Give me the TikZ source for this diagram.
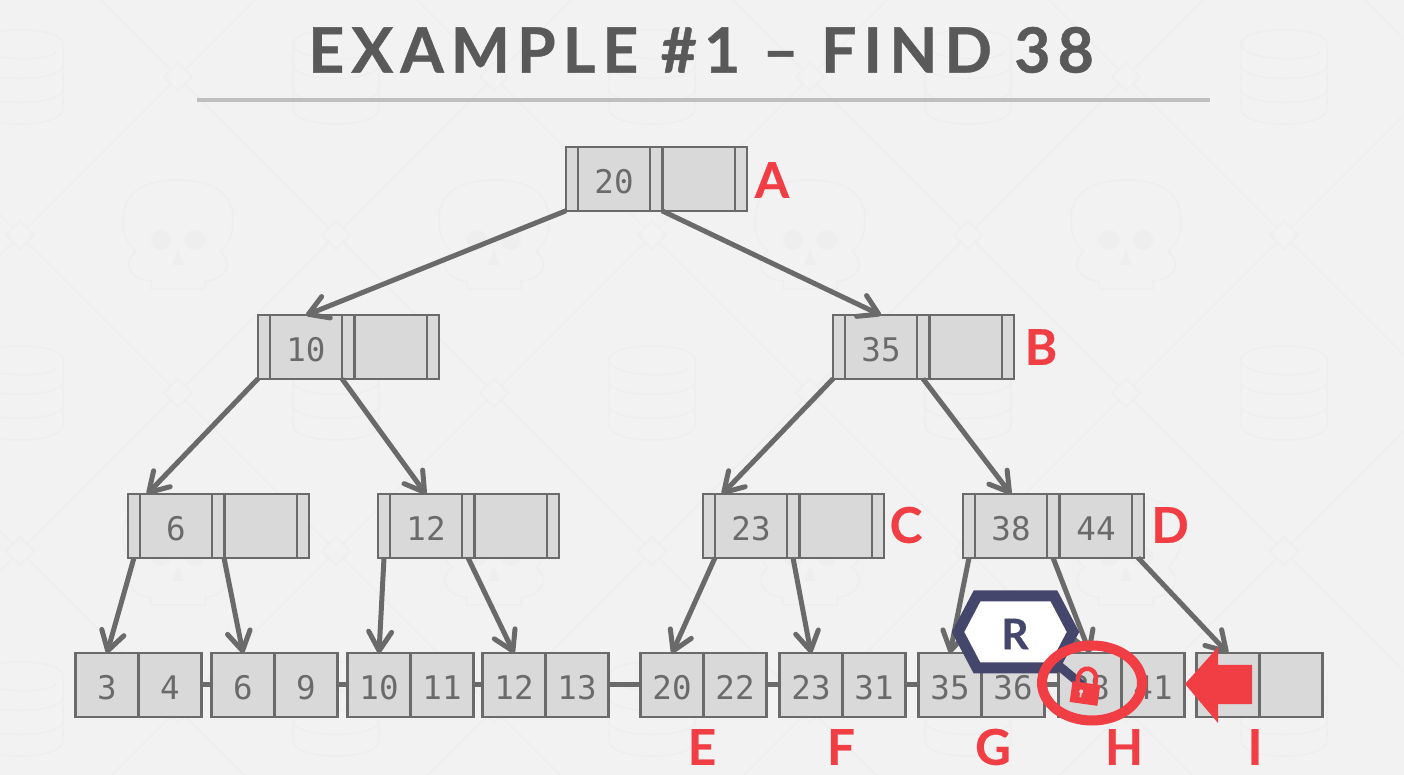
\documentclass[tikz,border=0pt]{standalone}
\usepackage{fontspec}
\usetikzlibrary{arrows.meta}
\setmainfont{Lato}
\newfontfamily\titlefont[LetterSpace=11.5,BoldFeatures={FakeBold=0.7}]{Lato}
\newfontfamily\tagfont[BoldFeatures={FakeBold=0.5}]{Lato}
\newfontfamily\keyfont{DejaVu Sans Mono}

\definecolor{pagebg}{HTML}{F2F2F2}
\definecolor{markgray}{HTML}{EEEEEE}
\definecolor{cellfill}{HTML}{D9D9D9}
\definecolor{cellline}{HTML}{6A6A6A}
\definecolor{titlegray}{HTML}{595959}
\definecolor{rulegray}{HTML}{BFBFBF}
\definecolor{alertred}{HTML}{F03E44}
\definecolor{latchblue}{HTML}{45466B}

\tikzset{
	cell/.style={draw=cellline, fill=cellfill, line width=0.45mm, inner sep=0pt, outer sep=0pt, minimum height=12.7mm, text height=6mm, text depth=0pt, text=cellline, font=\keyfont\fontsize{18.5}{20}\selectfont},
	strip/.style={cell, minimum width=2.4mm},
	keycell/.style={cell, minimum width=14.4mm},
	leafcell/.style={cell, minimum width=12.6mm},
	treeedge/.style={draw=cellline, line width=1mm, -{Straight Barb[length=3.8mm,width=4.6mm,line width=1mm,round]}},
	sibling/.style={draw=cellline, line width=1mm},
	tag/.style={text=alertred, inner sep=0pt, font=\tagfont\bfseries\fontsize{28}{30}\selectfont},
	faint/.style={draw=markgray, line width=0.3mm},
	pics/dbicon/.style={code={
		\draw[faint] (-43,-33) .. controls (-43,-52) and (43,-52) .. (43,-33) -- (43,32) .. controls (43,52) and (-43,52) .. (-43,32) -- cycle;
		\draw[faint] (-43,-33) .. controls (-43,-16) and (30,-14) .. (36,-25);
		\draw[faint] (-43,-12) .. controls (-43,6) and (43,6) .. (43,-12);
		\draw[faint] (-43,12) .. controls (-43,30) and (43,30) .. (43,12);
	}},
	pics/skullicon/.style={code={
		\draw[faint] (-27,54) -- (-27,46) .. controls (-45,46) and (-58,30) .. (-42,16) .. controls (-55,5) and (-55,-8) .. (-55,-15) .. controls (-55,-45) and (-30,-55) .. (0,-55) .. controls (30,-55) and (55,-45) .. (55,-15) .. controls (55,-8) and (55,5) .. (42,16) .. controls (58,30) and (45,46) .. (27,46) -- (27,54) -- cycle;
		\fill[markgray] (-17,5) circle (10);
		\fill[markgray] (17,5) circle (10);
		\fill[markgray] (0,15) -- (-6,30) -- (6,30) -- cycle;
	}}
}

\begin{document}
\begin{tikzpicture}[x=0.2mm, y=-0.2mm]

\useasboundingbox (0,0) rectangle (1404,775);
\fill[pagebg] (0,0) rectangle (1404,775);

% watermark
\begin{scope}
\clip (0,0) rectangle (1404,775);
\foreach \k in {-3,...,5} {
	\draw[faint] (101+316*\k,0) -- (876+316*\k,775);
	\draw[faint] (255+316*\k,0) -- (-520+316*\k,775);
}
\foreach \x in {20,336,652,968,1284} {
	\foreach \y in {77,393,709}
		\pic at (\x,\y) {dbicon};
	\foreach \y in {235,551}
		\draw[faint, fill=pagebg] (\x,\y-14) -- (\x+14,\y) -- (\x,\y+14) -- (\x-14,\y) -- cycle;
}
\foreach \x in {178,494,810,1126} {
	\foreach \y in {235,551}
		\pic at (\x,\y) {skullicon};
	\foreach \y in {77,393,709}
		\draw[faint, fill=pagebg] (\x,\y-14) -- (\x+14,\y) -- (\x,\y+14) -- (\x-14,\y) -- cycle;
}
\end{scope}

\node[text=titlegray, inner sep=0pt, font=\titlefont\bfseries\fontsize{35.5}{40}\selectfont] (title) at (701,50) {EXAMPLE \#1 – FIND 38};
\coordinate (ruleleft) at (197,100);
\coordinate (ruleright) at (1210,100);
\draw[rulegray, line width=0.8mm] (ruleleft) -- (ruleright);

% inner nodes
\foreach \name/\x/\y/\first/\second in {a/566/179/20/, b/258/347/10/, c/833/347/35/, d/128/526/6/, e/378/526/12/, f/703/526/23/, g/963/526/38/44} {
	\node[strip] (\name s1) at (\x+6,\y) {};
	\node[keycell] (\name k1) at (\x+48,\y) {\first};
	\node[strip] (\name s2) at (\x+90,\y) {};
	\node[keycell] (\name k2) at (\x+133,\y) {\second};
	\node[strip] (\name s3) at (\x+175,\y) {};
}

% leaves
\foreach \name/\x/\first/\second in {p/75/3/4, q/211/6/9, r/347/10/11, s/482/12/13, t/640/20/22, u/779/23/31, v/918/35/36, w/1058/38/41, z/1196//} {
	\node[leafcell] (\name1) at (\x+32,685) {\first};
	\node[leafcell] (\name2) at (\x+95,685) {\second};
}

\foreach \from/\to in {p2/q1, q2/r1, r2/s1, s2/t1, t2/u1, u2/v1, v2/w1}
	\draw[sibling] (\from) -- (\to);

\coordinate (dtip) at ([xshift=1.4mm]dk1.north west);
\coordinate (ftip) at ([xshift=1.4mm]fk1.north west);

\foreach \from/\to in {as1.south west/bk1.north, as2.south east/ck1.north, bs1.south west/dtip, bs2.south west/ek1.north, cs1.south west/ftip, cs2.south/gk1.north, ds1.south/p1.north, ds2.south east/q1.north, es1.south/r1.north, es2.south/s1.north, fs1.south east/t1.north, fs2.south/u1.north, gs1.south/v1.north, gs2.south/w1.north, gs3.south/z1.north}
	\draw[treeedge] (\from) -- (\to);

\node[tag] (la) at (772,180) {A};
\node[tag] (lb) at (1041,347) {B};
\node[tag] (lc) at (906,525) {C};
\node[tag] (ld) at (1170,525) {D};
\node[tag] (le) at (702,747) {E};
\node[tag] (lf) at (841,747) {F};
\node[tag] (lg) at (993,747) {G};
\node[tag] (lh) at (1124,747) {H};
\node[tag] (li) at (1255,747) {I};

% latch
\coordinate (latchend) at (1082,685);
\draw[latchblue, line width=1.8mm] (1052,660) -- (latchend);
\draw[latchblue, fill=white, line width=2.2mm] (958,632) -- (977,596) -- (1054,596) -- (1073,632) -- (1054,668) -- (977,668) -- cycle;
\node[text=latchblue, inner sep=0pt, font=\tagfont\bfseries\fontsize{24}{26}\selectfont] (latch) at (1015,634) {R};

\draw[alertred, line width=2mm] (1092,683) ellipse (50 and 37.5);
\begin{scope}[shift={(1085,693)}, rotate=-8]
\fill[alertred] (-14,-10) rectangle (14,11);
\draw[alertred, line width=0.9mm] (-9,-10) -- (-9,-14) .. controls (-9,-28) and (9,-28) .. (9,-14) -- (9,-10);
\fill[cellfill] (-4,-1) circle (2);
\fill[cellfill] (-4.8,-1) rectangle (-3.2,5);
\end{scope}

\fill[alertred] (1185,684) -- (1218,647) -- (1218,665) -- (1252,665) -- (1252,704) -- (1218,704) -- (1218,723) -- cycle;

\end{tikzpicture}
\end{document}
